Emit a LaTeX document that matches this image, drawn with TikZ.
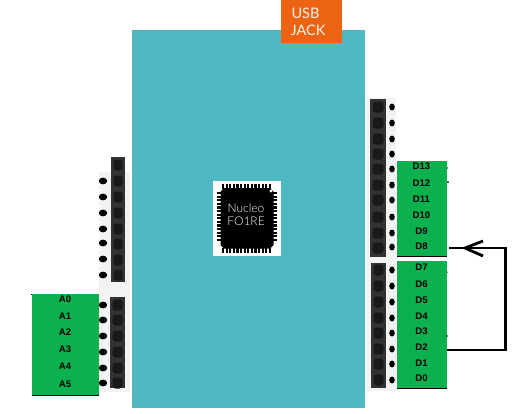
\documentclass[tikz,border=0pt]{standalone}
\usepackage{fontspec}
\setmainfont{Liberation Sans}
\newfontfamily\thinfont{Lato Light}
\newfontfamily\usbfont{Lato}
\definecolor{teal1}{HTML}{4FB8C3}
\definecolor{orange1}{HTML}{EC6413}
\definecolor{green1}{HTML}{0BB04F}
\definecolor{strip}{HTML}{F3F3F3}
\definecolor{hdr}{HTML}{323234}
\tikzset{
  board/.style={fill=teal1,draw=none,inner sep=0pt},
  usbbox/.style={fill=orange1,draw=none,inner sep=0pt},
  cellbox/.style={fill=green1,draw=none},
  rule/.style={black,line width=1pt},
  pinlabel/.style={font=\bfseries\fontsize{9.6}{9.6}\selectfont,text=black,inner sep=0pt},
  usbtext/.style={font=\usbfont\fontsize{14.5}{14.5}\selectfont,text=white!92!orange1,inner sep=0pt},
  chiptext/.style={font=\thinfont\fontsize{12}{12}\selectfont,text=white,inner sep=0pt},
  wire/.style={black,line width=2.8pt},
  headerbody/.style={fill=hdr,draw=none},
  holedot/.style={fill=black,draw=none}
}
% \cellrow{name}{x1}{x2}{top}{bottom}{label}{label y}
\newcommand{\cellrow}[7]{%
  \fill[cellbox] (#2,#4) rectangle (#3,#5);
  \coordinate (#1-e) at (#3,{(#4+#5)/2});
  \draw[rule] (#2,#5) -- (#3,#5);
  \node[pinlabel] (#1) at ({(#2+#3)/2-0.5},#7) {#6};
}
% \hdrstrip{x1}{x2}{top}{bottom}{pin y list}
\newcommand{\hdrstrip}[5]{%
  \fill[headerbody] (#1,#3) rectangle (#2,#4);
  \foreach \py in {#5} {
    \fill[black!90,rounded corners=3pt] ({#1+2.5},\py-5.5) rectangle ({#2-2.5},\py+5.5);
  }
}
\begin{document}
\begin{tikzpicture}[x=1pt,y=-1pt]
\useasboundingbox (0,0) rectangle (517,413);
\fill[white] (0,0) rectangle (517,413);
% board
\node[board,minimum width=233pt,minimum height=378pt] (main) at (248.5,219) {};
\node[usbbox,minimum width=61pt,minimum height=43pt] (usb) at (311.5,21.5) {};
\node[usbtext] (usbtext1) at (305.5,13) {USB};
\node[usbtext] (usbtext2) at (308,30) {JACK};
% chip
\node[fill=white,minimum width=68pt,minimum height=75pt,inner sep=0pt] (chipbg) at (247,218.5) {};
\foreach \k in {0,...,13} {
  \fill[black] ({222+\k*3.6},184) rectangle ++(2.2,5);
  \fill[black] ({222+\k*3.6},248) rectangle ++(2.2,5);
}
\foreach \k in {0,...,13} {
  \fill[black] (217,{192+\k*3.6}) rectangle ++(5,2.2);
  \fill[black] (272,{192+\k*3.6}) rectangle ++(5,2.2);
}
\fill[black] (224,188) -- (270,188) -- (273.5,191.5) -- (273.5,245) -- (270,248.5) -- (224,248.5) -- (220.5,245) -- (220.5,191.5) -- cycle;
\fill[white] (271,191) circle (1.6);
\node[chiptext] (chip1) at (246,208.5) {Nucleo};
\node[chiptext] (chip2) at (246,221.5) {FO1RE};
% left header
\fill[strip] (99,172) rectangle (130,392);
\hdrstrip{111}{125}{157}{282}{165,181,197,213,229,244,260,275}
\hdrstrip{110}{125}{297}{388}{305,320,336,352,368,383}
\foreach \dy in {181,197,213,229,243,259,275,305,320,336,352,368,383}
  \fill[holedot] (103,\dy) ellipse (4.2 and 3.4);
% right header
\fill[strip] (367,98) rectangle (396,391);
\hdrstrip{370}{386}{99}{257}{107,123,139,154,169,185,200,217,233,248}
\hdrstrip{371}{386}{263}{388}{270,286,302,318,333,349,364,380}
\foreach \dy in {107,123,139,154,169,185,200,217,233,247,270,286,302,318,333,349,364,380}
  \fill[holedot] (392,\dy) ellipse (2.8 and 3.5);
% left cells
\draw[rule] (31,294) -- (99,294);
\cellrow{a0}{32}{99}{294}{310}{A0}{299}
\cellrow{a1}{32}{99}{310}{327}{A1}{316}
\cellrow{a2}{32}{99}{327}{344}{A2}{332}
\cellrow{a3}{32}{99}{344}{361}{A3}{349}
\cellrow{a4}{32}{99}{361}{379}{A4}{366}
\cellrow{a5}{32}{99}{379}{395}{A5}{384}
% right cells
\draw[rule] (397,161) -- (447,161);
\cellrow{d13}{397}{447}{161}{178}{D13}{166}
\cellrow{d12}{397}{447}{178}{194}{D12}{183.5}
\cellrow{d11}{397}{447}{194}{209}{D11}{199}
\cellrow{d10}{397}{447}{209}{225}{D10}{215}
\cellrow{d9}{397}{447}{225}{241}{D9}{231}
\cellrow{d8}{397}{447}{241}{256}{D8}{246}
\draw[rule] (397,261) -- (447,261);
\cellrow{d7}{397}{447}{261}{279}{D7}{267}
\cellrow{d6}{397}{447}{279}{294}{D6}{284}
\cellrow{d5}{397}{447}{294}{310}{D5}{300}
\cellrow{d4}{397}{447}{310}{326}{D4}{316}
\cellrow{d3}{397}{447}{326}{342}{D3}{331}
\cellrow{d2}{397}{447}{342}{357}{D2}{347}
\cellrow{d1}{397}{447}{357}{373}{D1}{363}
\cellrow{d0}{397}{447}{373}{388}{D0}{378}
% specks
\fill[black] (447.5,168) circle (0.6);
\fill[black] (448,182) circle (1);
\fill[black] (447.5,272) circle (0.5);
\fill[black] (447,336) circle (0.8);
% connector D2 -> D8
\coordinate (d8port) at (449,248);
\coordinate (d2port) at (447,350);
\coordinate (cornerA) at (505.5,248);
\coordinate (cornerB) at (505.5,350);
\coordinate (tip) at (465,248);
\coordinate (wingA) at (483,241);
\coordinate (wingB) at (483,256);
\draw[wire,line join=miter] (d2port) -- (cornerB) -- (cornerA) -- (d8port);
\draw[wire] (wingA) -- (tip) -- (wingB);
\end{tikzpicture}
\end{document}
